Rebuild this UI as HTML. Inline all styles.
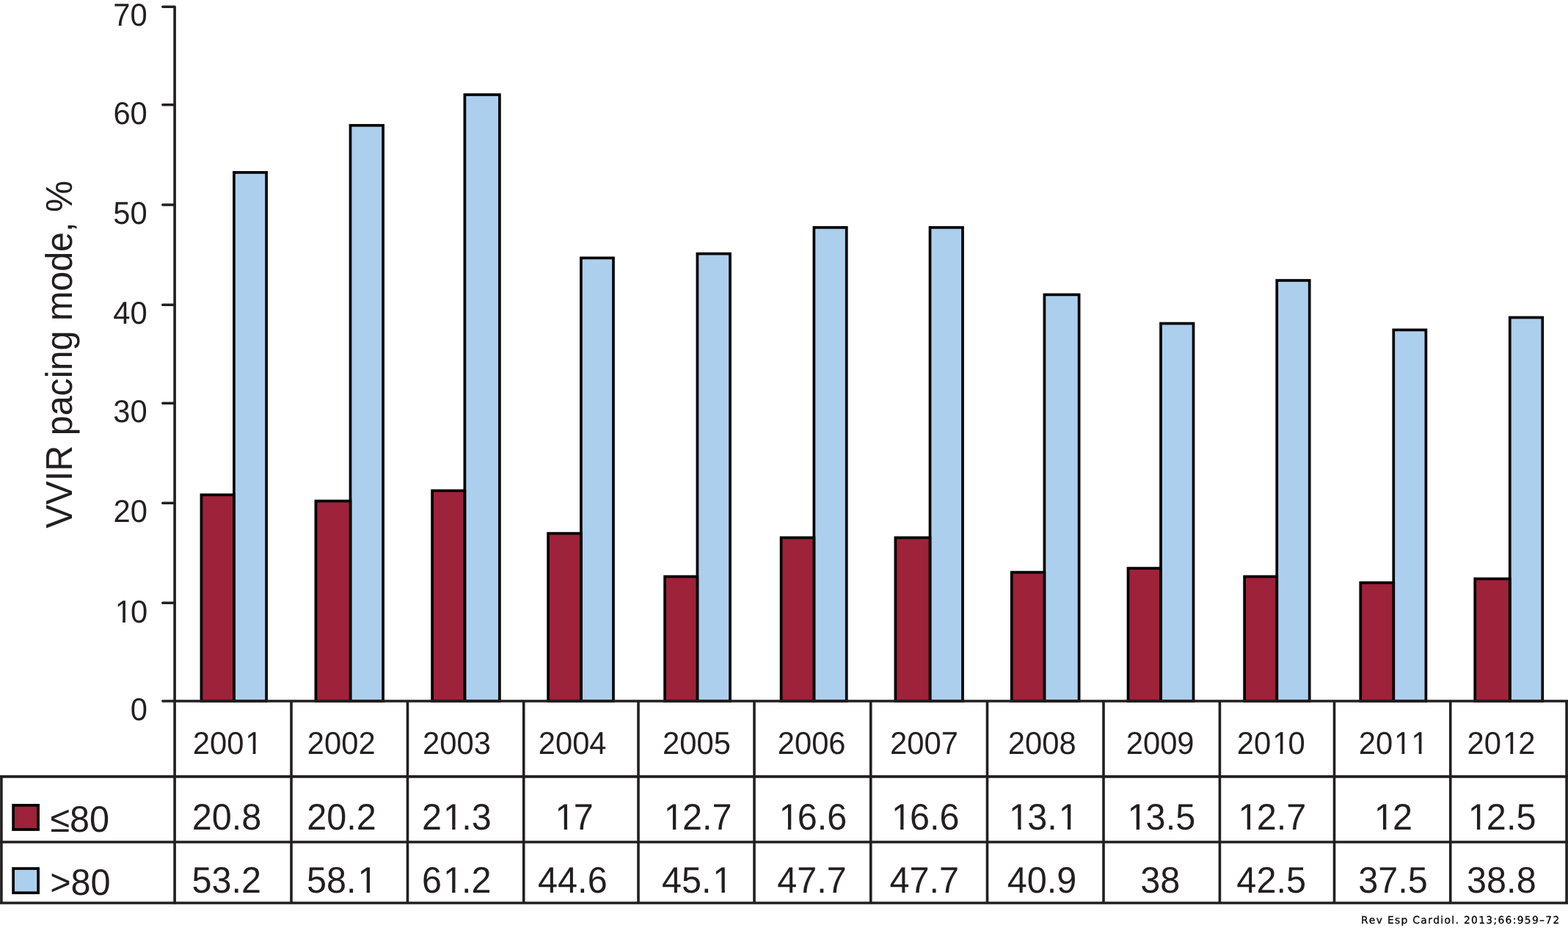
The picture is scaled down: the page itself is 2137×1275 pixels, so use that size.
<!DOCTYPE html>
<html lang="en"><head><meta charset="utf-8"><title>VVIR pacing mode, % by age group, 2001-2012</title>
<style>html,body{margin:0;padding:0;background:#fff}body{width:2137px;height:1275px;overflow:hidden}svg{display:block}text{font-family:"Liberation Sans",sans-serif;fill:#231f20;stroke:#231f20;stroke-width:0;stroke-linejoin:miter;text-rendering:geometricPrecision;font-kerning:none}.cr{font-family:"DejaVu Sans","Liberation Sans",sans-serif;fill:#000;stroke:#000;stroke-width:0.3px;text-rendering:geometricPrecision}</style></head><body>
<svg width="2137" height="1275" viewBox="0 0 2137 1275">
<rect x="0" y="0" width="2137" height="1275" fill="#fff"/>
<g stroke="#000" stroke-width="3.7" stroke-linejoin="miter">
<rect x="318.9" y="234.9" width="44.2" height="720.1" fill="#adcfee"/>
<rect x="274.4" y="674.1" width="44.5" height="280.9" fill="#9e2239"/>
<rect x="477.5" y="170.8" width="44.6" height="784.2" fill="#adcfee"/>
<rect x="430.4" y="682.5" width="47.1" height="272.5" fill="#9e2239"/>
<rect x="633.4" y="129" width="47.5" height="826" fill="#adcfee"/>
<rect x="589.1" y="668.4" width="44.3" height="286.6" fill="#9e2239"/>
<rect x="791.9" y="351.4" width="44.1" height="603.6" fill="#adcfee"/>
<rect x="747.1" y="726.6" width="44.8" height="228.4" fill="#9e2239"/>
<rect x="950.4" y="345.6" width="44.6" height="609.4" fill="#adcfee"/>
<rect x="906.1" y="785.4" width="44.3" height="169.6" fill="#9e2239"/>
<rect x="1109.4" y="309.9" width="44.35" height="645.1" fill="#adcfee"/>
<rect x="1064.6" y="732.4" width="44.8" height="222.6" fill="#9e2239"/>
<rect x="1267.5" y="309.9" width="44.5" height="645.1" fill="#adcfee"/>
<rect x="1220.4" y="732.4" width="47.1" height="222.6" fill="#9e2239"/>
<rect x="1423.4" y="401.4" width="47.2" height="553.6" fill="#adcfee"/>
<rect x="1378.75" y="779.6" width="44.65" height="175.4" fill="#9e2239"/>
<rect x="1582" y="440.6" width="44.5" height="514.4" fill="#adcfee"/>
<rect x="1537.5" y="774.1" width="44.5" height="180.9" fill="#9e2239"/>
<rect x="1740.25" y="382" width="44.45" height="573" fill="#adcfee"/>
<rect x="1696.1" y="785.4" width="44.15" height="169.6" fill="#9e2239"/>
<rect x="1899.25" y="449.4" width="44.15" height="505.6" fill="#adcfee"/>
<rect x="1854.25" y="793.75" width="45" height="161.25" fill="#9e2239"/>
<rect x="2057.75" y="432.5" width="44.5" height="522.5" fill="#adcfee"/>
<rect x="2010.25" y="788.4" width="47.5" height="166.6" fill="#9e2239"/>
</g>
<g stroke="#231f20" stroke-width="3.6" fill="none" stroke-linecap="butt" stroke-linejoin="round">
<path d="M221.8 9.25 H238.1 V1230" stroke-linecap="round"/>
<path d="M221.8 142.75 H238.1" stroke-linecap="round"/>
<path d="M221.8 279 H238.1" stroke-linecap="round"/>
<path d="M221.8 415.25 H238.1" stroke-linecap="round"/>
<path d="M221.8 549.2 H238.1" stroke-linecap="round"/>
<path d="M221.8 685.2 H238.1" stroke-linecap="round"/>
<path d="M221.8 821.25 H238.1" stroke-linecap="round"/>
<path d="M221.8 955 H238.1" stroke-linecap="round"/>
<path d="M238.1 955 H2137"/>
<path d="M0 1057.9 H2137"/>
<path d="M0 1147 H2137"/>
<path d="M0 1230 H2137"/>
<path d="M397 955 V1230"/>
<path d="M555.5 955 V1230"/>
<path d="M713.75 955 V1230"/>
<path d="M870 955 V1230"/>
<path d="M1028 955 V1230"/>
<path d="M1186.75 955 V1230"/>
<path d="M1345.5 955 V1230"/>
<path d="M1504 955 V1230"/>
<path d="M1662.4 955 V1230"/>
<path d="M1818.5 955 V1230"/>
<path d="M1976.75 955 V1230"/>
<path d="M2135.1 955 V1230"/>
<path d="M1.9 1057.9 V1230"/>
</g>
<rect x="18.1" y="1096.9" width="34" height="33.1" fill="#9e2239" stroke="#000" stroke-width="3.7"/>
<rect x="18.1" y="1183.1" width="34" height="33.1" fill="#adcfee" stroke="#000" stroke-width="3.7"/>
<text id="yt" transform="translate(98.3 719.8) rotate(-90) scale(0.9535 1)" font-size="50.8">VVIR pacing mode, %</text>
<text id="y0" transform="translate(262.76 1027) scale(0.9675 1)" font-size="43.1" dx="0 0 0 1.96">2001</text>
<text id="y1" transform="translate(418.86 1027) scale(0.9675 1)" font-size="43.1">2002</text>
<text id="y2" transform="translate(576.09 1027) scale(0.9675 1)" font-size="43.1">2003</text>
<text id="y3" transform="translate(733.81 1027) scale(0.9675 1)" font-size="43.1">2004</text>
<text id="y4" transform="translate(903.08 1027) scale(0.9675 1)" font-size="43.1">2005</text>
<text id="y5" transform="translate(1059.79 1027) scale(0.9675 1)" font-size="43.1">2006</text>
<text id="y6" transform="translate(1213.1 1027) scale(0.9675 1)" font-size="43.1">2007</text>
<text id="y7" transform="translate(1373.86 1027) scale(0.9675 1)" font-size="43.1">2008</text>
<text id="y8" transform="translate(1534.77 1027) scale(0.9675 1)" font-size="43.1">2009</text>
<text id="y9" transform="translate(1685.87 1027) scale(0.9675 1)" font-size="43.1" dx="0 0 1.96 -1.96">2010</text>
<text id="y10" transform="translate(1851.76 1027) scale(0.9675 1)" font-size="43.1" dx="0 0 1.96">2011</text>
<text id="y11" transform="translate(1999.61 1027) scale(0.9675 1)" font-size="43.1" dx="0 0 1.96 -1.96">2012</text>
<text id="a0" transform="translate(261.74 1130) scale(0.9662 1)" font-size="50.3">20.8</text>
<text id="a1" transform="translate(418.19 1130) scale(0.9662 1)" font-size="50.3">20.2</text>
<text id="a2" transform="translate(575.09 1130) scale(0.9662 1)" font-size="50.3" dx="0 1.97 -1.97">21.3</text>
<text id="a3" transform="translate(754.65 1130) scale(0.9662 1)" font-size="50.3" dx="1.97 -1.97">17</text>
<text id="a4" transform="translate(902.87 1130) scale(0.9662 1)" font-size="50.3" dx="1.97 -1.97">12.7</text>
<text id="a5" transform="translate(1059.76 1130) scale(0.9662 1)" font-size="50.3" dx="1.97 -1.97">16.6</text>
<text id="a6" transform="translate(1213.01 1130) scale(0.9662 1)" font-size="50.3" dx="1.97 -1.97">16.6</text>
<text id="a7" transform="translate(1373.2 1130) scale(0.9662 1)" font-size="50.3" dx="1.97 -1.97 0 1.97">13.1</text>
<text id="a8" transform="translate(1534.57 1130) scale(0.9662 1)" font-size="50.3" dx="1.97 -1.97">13.5</text>
<text id="a9" transform="translate(1685.62 1130) scale(0.9662 1)" font-size="50.3" dx="1.97 -1.97">12.7</text>
<text id="a10" transform="translate(1870.87 1130) scale(0.9662 1)" font-size="50.3" dx="1.97 -1.97">12</text>
<text id="a11" transform="translate(1998.82 1130) scale(0.9662 1)" font-size="50.3" dx="1.97 -1.97">12.5</text>
<text id="b0" transform="translate(261.53 1216) scale(0.9662 1)" font-size="50.3">53.2</text>
<text id="b1" transform="translate(417.98 1216) scale(0.9662 1)" font-size="50.3" dx="0 0 0 1.97">58.1</text>
<text id="b2" transform="translate(575 1216) scale(0.9662 1)" font-size="50.3" dx="0 1.97 -1.97">61.2</text>
<text id="b3" transform="translate(733.07 1216) scale(0.9662 1)" font-size="50.3">44.6</text>
<text id="b4" transform="translate(901.88 1216) scale(0.9662 1)" font-size="50.3" dx="0 0 0 1.97">45.1</text>
<text id="b5" transform="translate(1059.13 1216) scale(0.9662 1)" font-size="50.3">47.7</text>
<text id="b6" transform="translate(1212.38 1216) scale(0.9662 1)" font-size="50.3">47.7</text>
<text id="b7" transform="translate(1372.8 1216) scale(0.9662 1)" font-size="50.3">40.9</text>
<text id="b8" transform="translate(1554.21 1216) scale(0.9662 1)" font-size="50.3">38</text>
<text id="b9" transform="translate(1685.35 1216) scale(0.9662 1)" font-size="50.3">42.5</text>
<text id="b10" transform="translate(1851.14 1216) scale(0.9662 1)" font-size="50.3">37.5</text>
<text id="b11" transform="translate(1999.07 1216) scale(0.9662 1)" font-size="50.3">38.8</text>
<text id="t70" transform="translate(154.2 35) scale(0.9675 1)" font-size="43.1">70</text>
<text id="t60" transform="translate(154.4 169) scale(0.9675 1)" font-size="43.1">60</text>
<text id="t50" transform="translate(154.32 305) scale(0.9675 1)" font-size="43.1">50</text>
<text id="t40" transform="translate(154.37 441) scale(0.9675 1)" font-size="43.1">40</text>
<text id="t30" transform="translate(154.31 575) scale(0.9675 1)" font-size="43.1">30</text>
<text id="t20" transform="translate(154.56 711) scale(0.9675 1)" font-size="43.1">20</text>
<text id="t10" transform="translate(154.77 848) scale(0.9675 1)" font-size="43.1" dx="1.96 -1.96">10</text>
<text id="t0" transform="translate(177.81 981) scale(0.9675 1)" font-size="43.1">0</text>
<text id="l0" transform="translate(68.4 1133) scale(0.9662 1)" font-size="50.3">≤80</text>
<text id="l1" transform="translate(68.15 1219) scale(0.9662 1)" font-size="50.3">>80</text>
<g fill="#fff"><rect x="336.01" y="1022.48" width="8.66" height="5.22"/><rect x="348.46" y="1022.48" width="7.98" height="5.22"/><rect x="1735.93" y="1022.48" width="8.66" height="5.22"/><rect x="1748.37" y="1022.48" width="7.98" height="5.22"/><rect x="1901.82" y="1022.48" width="8.66" height="5.22"/><rect x="1914.26" y="1022.48" width="7.98" height="5.22"/><rect x="1925.01" y="1022.48" width="8.66" height="5.22"/><rect x="1937.46" y="1022.48" width="7.98" height="5.22"/><rect x="2049.67" y="1022.48" width="8.66" height="5.22"/><rect x="2062.11" y="1022.48" width="7.98" height="5.22"/><rect x="606.32" y="1124.94" width="9.87" height="5.76"/><rect x="620.59" y="1124.94" width="9.14" height="5.76"/><rect x="758.85" y="1124.94" width="9.87" height="5.76"/><rect x="773.12" y="1124.94" width="9.14" height="5.76"/><rect x="907.07" y="1124.94" width="9.87" height="5.76"/><rect x="921.34" y="1124.94" width="9.14" height="5.76"/><rect x="1063.96" y="1124.94" width="9.87" height="5.76"/><rect x="1078.23" y="1124.94" width="9.14" height="5.76"/><rect x="1217.21" y="1124.94" width="9.87" height="5.76"/><rect x="1231.48" y="1124.94" width="9.14" height="5.76"/><rect x="1377.4" y="1124.94" width="9.87" height="5.76"/><rect x="1391.67" y="1124.94" width="9.14" height="5.76"/><rect x="1444.96" y="1124.94" width="9.87" height="5.76"/><rect x="1459.23" y="1124.94" width="9.14" height="5.76"/><rect x="1538.77" y="1124.94" width="9.87" height="5.76"/><rect x="1553.04" y="1124.94" width="9.14" height="5.76"/><rect x="1689.82" y="1124.94" width="9.87" height="5.76"/><rect x="1704.09" y="1124.94" width="9.14" height="5.76"/><rect x="1875.07" y="1124.94" width="9.87" height="5.76"/><rect x="1889.34" y="1124.94" width="9.14" height="5.76"/><rect x="2003.02" y="1124.94" width="9.87" height="5.76"/><rect x="2017.29" y="1124.94" width="9.14" height="5.76"/><rect x="489.74" y="1210.94" width="9.87" height="5.76"/><rect x="504.01" y="1210.94" width="9.14" height="5.76"/><rect x="606.23" y="1210.94" width="9.87" height="5.76"/><rect x="620.5" y="1210.94" width="9.14" height="5.76"/><rect x="973.64" y="1210.94" width="9.87" height="5.76"/><rect x="987.91" y="1210.94" width="9.14" height="5.76"/><rect x="158.45" y="843.48" width="8.66" height="5.22"/><rect x="170.89" y="843.48" width="7.98" height="5.22"/></g>
<text id="cr" class="cr" x="1854.9" y="1257.7" font-size="13.8" letter-spacing="1.35">Rev Esp Cardiol. 2013;66:959–72</text>
</svg></body></html>
